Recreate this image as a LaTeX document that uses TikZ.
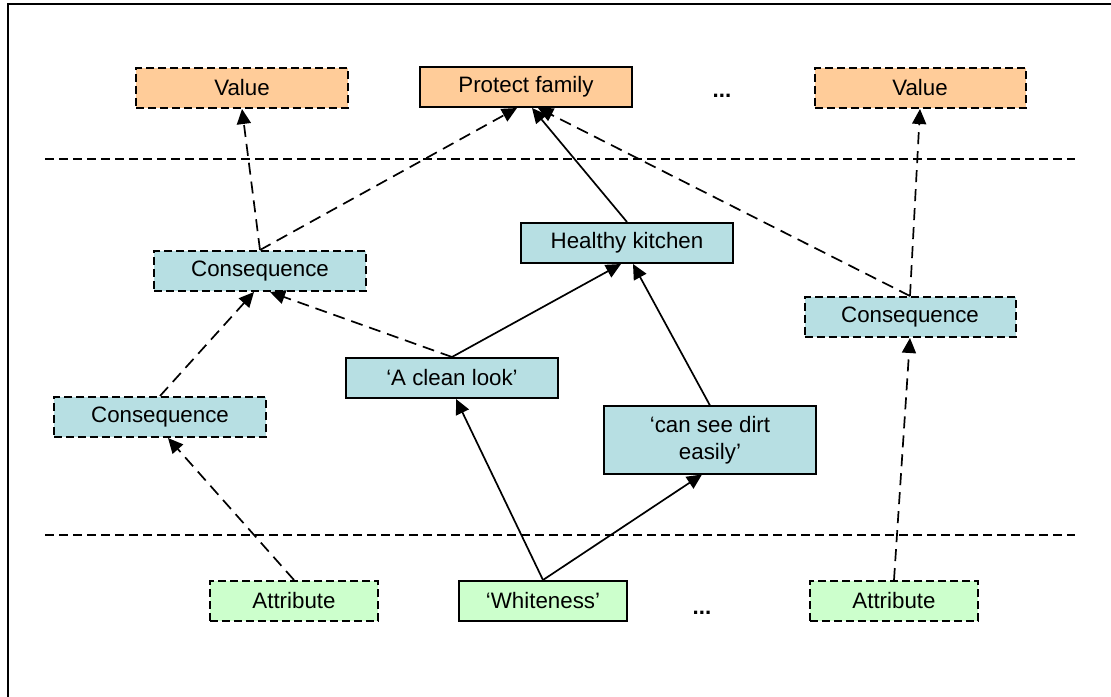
\documentclass[tikz,border=0pt]{standalone}
\usepackage{fontspec}
\setmainfont{Liberation Sans}
\usetikzlibrary{arrows.meta, positioning}
\definecolor{valfill}{HTML}{FFCC99}
\definecolor{confill}{HTML}{B7DFE3}
\definecolor{attfill}{HTML}{CCFFCC}
\newcommand{\boxfont}{\fontsize{11.2}{13.5}\selectfont}
\tikzset{
   mybox/.style={draw, line width=1bp, inner sep=0pt, minimum height=20bp, minimum width=105.5bp, font=\boxfont},
   mydashed/.style={dash pattern=on 4bp off 2bp},
   myval/.style={mybox, fill=valfill},
   mycon/.style={mybox, fill=confill},
   myattr/.style={mybox, fill=attfill, minimum width=84bp},
   mysep/.style={draw, line width=0.8bp, dash pattern=on 4.5bp off 2.5bp},
   mydots/.style={inner sep=0pt, font=\boxfont\bfseries}
}

\begin{document}
\begin{tikzpicture}[x=0.5bp, y=-0.5bp]
         \tikzstyle{line} = [draw, line width=0.85bp, -{Triangle[length=7.5bp, width=7bp]}]
         \tikzstyle{dline} = [line, dash pattern=on 6bp off 3.5bp]
            \useasboundingbox (0,0) rectangle (1111,697);
            \draw [line width=1bp] (8,697) -- (8,4) -- (1111,4);
            \path [mysep] (45,159) -- (1075,159);
            \path [mysep] (45,535) -- (1075,535);
            % values
            \node [myval, mydashed] (val1) at (242,88) {Value};
            \node [myval] (protect) at (526,87) {Protect family};
            \node [mydots] (dots1) at (722,96) {...};
            \node [myval, mydashed] (val2) at (920,88) {Value};
            % consequences
            \node [mycon, mydashed] (con1) at (260,271) {Consequence};
            \node [mycon] (kitchen) at (627,243) {Healthy kitchen};
            \node [mycon, mydashed] (con2) at (910,317) {Consequence};
            \node [mycon, mydashed] (con3) at (160,417) {Consequence};
            \node [mycon] (clean) at (452,378) {`A clean look'};
            \node [mycon, minimum height=33.5bp, align=center] (dirt) at (710,440) {`can see dirt\\easily'};
            % attributes
            \node [myattr, mydashed] (attr1) at (294,601) {Attribute};
            \node [myattr] (white) at (543,601) {`Whiteness'};
            \node [mydots] (dots2) at (702,613) {...};
            \node [myattr, mydashed] (attr2) at (894,601) {Attribute};
            % links
            \path [dline] (con1.north) -- (val1.south);
            \path [dline] (con1.north) -- ([xshift=-4.5bp]protect.south);
            \path [line] (kitchen.north) -- ([xshift=3bp]protect.south);
            \path [dline] (con2.north) -- ([xshift=6bp]protect.south);
            \path [dline] (con2.north) -- (val2.south);
            \path [dline] (con3.north) -- ([xshift=-3bp]con1.south);
            \path [dline] (clean.north) -- ([xshift=5bp]con1.south);
            \path [line] (clean.north) -- ([xshift=-3bp]kitchen.south);
            \path [line] (dirt.north) -- ([xshift=3bp]kitchen.south);
            \path [line] (white.north) -- ([xshift=2bp]clean.south);
            \path [line] (white.north) -- ([xshift=-4bp]dirt.south);
            \path [dline] (attr1.north) -- ([xshift=4bp]con3.south);
            \path [dline] (attr2.north) -- (con2.south);
      \end{tikzpicture}
\end{document}
